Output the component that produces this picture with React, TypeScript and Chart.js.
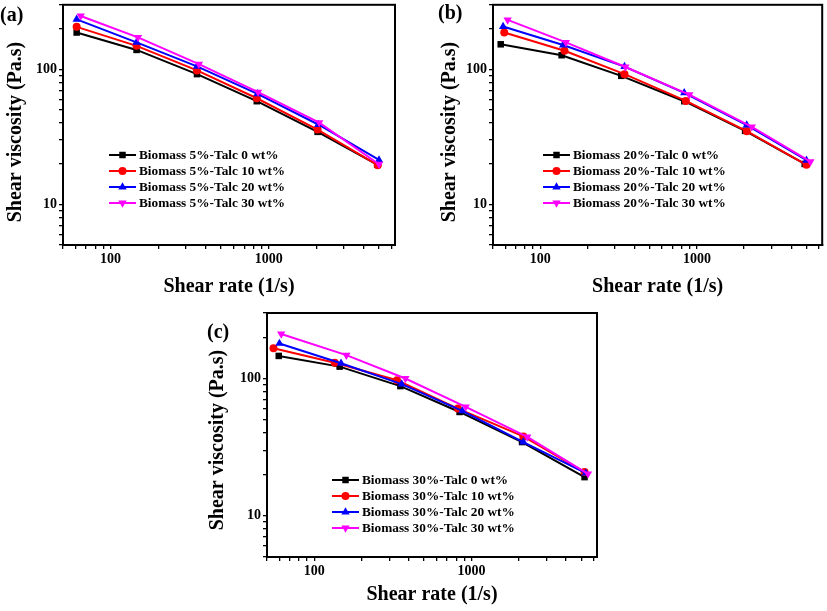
import React, { useEffect, useRef } from 'react';
import { Chart, registerables } from 'chart.js';

Chart.register(...registerables);

const FONT = '"Liberation Serif", "Times New Roman", serif';

// ---------- Series meta ----------
const seriesNames = ['Talc 0 wt%', 'Talc 10 wt%', 'Talc 20 wt%', 'Talc 30 wt%'];
const seriesColors = ['#000000', '#ff0000', '#0000ff', '#ff00ff'];
const pointStyles = ['rect', 'circle', 'triangle', 'triangle'];
const pointRotations = [0, 0, 0, 180];
const pointRadii = [4.6, 4.0, 4.8, 4.8];
const biomassLevels = ['5%', '20%', '30%'];
const panelLetters = ['(a)', '(b)', '(c)'];

// ---------- Panel (a): Biomass 5% ----------
const aX0 = [61, 146, 352, 841, 2040, 4860];
const aY0 = [187, 139, 92, 58, 34.4, 19.7];
const aX10 = [61, 146, 352, 841, 2040, 4900];
const aY10 = [206, 149, 98, 61, 35.8, 19.5];
const aX20 = [61, 146, 352, 850, 2060, 4990];
const aY20 = [234, 158, 105, 65.8, 39, 21.3];
const aX30 = [64.7, 149, 362, 857, 2090, 4990];
const aY30 = [248, 172, 109, 67.8, 40.3, 19.8];

// ---------- Panel (b): Biomass 20% ----------
const bX0 = [56, 137, 329, 830, 2030, 4870];
const bY0 = [153, 127, 89.4, 58, 35, 19.9];
const bX10 = [59, 143, 345, 850, 2080, 5000];
const bY10 = [187, 137, 92, 58.3, 34.8, 19.6];
const bX20 = [58, 140, 345, 830, 2080, 5000];
const bY20 = [207, 151, 104.6, 66.9, 38.6, 21.2];
const bX30 = [62, 146, 350, 894, 2240, 5300];
const bY30 = [232, 158, 104, 64.8, 37.5, 20.7];

// ---------- Panel (c): Biomass 30% ----------
const cX0 = [59.4, 145, 353, 841, 2100, 5250];
const cY0 = [146, 122, 88, 57, 34.4, 19.1];
const cX10 = [55, 135, 336, 820, 2140, 5250];
const cY10 = [166, 130, 97, 60.3, 37.8, 20.8];
const cX20 = [60, 148, 360, 875, 2140, 5350];
const cY20 = [180, 129, 91, 58, 34.4, 20.4];
const cX30 = [61.6, 160, 380, 920, 2265, 5520];
const cY30 = [211, 148, 100, 62, 37.5, 20.2];

// ---------- Axes ----------
const xTickValues = [50, 60, 70, 80, 90, 100, 200, 300, 400, 500, 600, 700, 800, 900, 1000, 2000, 3000, 4000, 5000, 6000];
const yTickValues = [5, 6, 7, 8, 9, 10, 20, 30, 40, 50, 60, 70, 80, 90, 100, 200, 300];
const xTickLabels = [100, 1000];
const yTickLabels = [10, 100];
const xMin = 50;
const xMax = 6300;
const yMin = 5;
const yMax = 300;
const xTitle = 'Shear rate (1/s)';
const yTitle = 'Shear viscosity (Pa.s)';

const panelX = [
  [aX0, aX10, aX20, aX30],
  [bX0, bX10, bX20, bX30],
  [cX0, cX10, cX20, cX30],
];
const panelY = [
  [aY0, aY10, aY20, aY30],
  [bY0, bY10, bY20, bY30],
  [cY0, cY10, cY20, cY30],
];

const panelLayouts = [
  { left: 0, top: 0, width: 410, height: 305, padL: 0, padT: 1, padR: 15, yW: 63, xH: 60, xTitlePadB: 6, yTitleX: 16, yTitleY: 132, legendX: 109, legendY: 155, labelX: 0, labelY: 16 },
  { left: 410, top: 0, width: 417, height: 305, padL: 26, padT: 1, padR: 4, yW: 57, xH: 60, xTitlePadB: 6, yTitleX: 40, yTitleY: 132, legendX: 133, legendY: 155, labelX: 28, labelY: 14 },
  { left: 190, top: 308, width: 420, height: 303, padL: 16, padT: 5, padR: 13, yW: 61, xH: 54, xTitlePadB: 4, yTitleX: 28, yTitleY: 132, legendX: 142, legendY: 172, labelX: 17, labelY: 25 },
];

function drawMarker(ctx: CanvasRenderingContext2D, style: string, x: number, y: number, r: number, rotDeg: number, color: string) {
  ctx.save();
  ctx.fillStyle = color;
  ctx.beginPath();
  if (style === 'rect') {
    const s = Math.SQRT1_2 * r;
    ctx.rect(x - s, y - s, 2 * s, 2 * s);
  } else if (style === 'circle') {
    ctx.arc(x, y, r, 0, Math.PI * 2);
  } else {
    let rad = (rotDeg * Math.PI) / 180;
    ctx.moveTo(x + Math.sin(rad) * r, y - Math.cos(rad) * r);
    rad += (2 * Math.PI) / 3;
    ctx.lineTo(x + Math.sin(rad) * r, y - Math.cos(rad) * r);
    rad += (2 * Math.PI) / 3;
    ctx.lineTo(x + Math.sin(rad) * r, y - Math.cos(rad) * r);
    ctx.closePath();
  }
  ctx.fill();
  ctx.restore();
}

const decorPlugin = {
  id: 'decor',
  afterDatasetsDraw(chart: any, _args: any, opts: any) {
    const { ctx, chartArea: ca } = chart;
    ctx.save();
    // frame
    ctx.strokeStyle = '#000';
    ctx.lineWidth = 2;
    ctx.strokeRect(ca.left, ca.top, ca.right - ca.left, ca.bottom - ca.top);
    // legend
    const ds = chart.data.datasets;
    ctx.font = `bold 13.3px ${FONT}`;
    ctx.textBaseline = 'middle';
    ctx.textAlign = 'left';
    ds.forEach((d: any, i: number) => {
      const y = opts.legendY + i * 16;
      const x0 = opts.legendX;
      ctx.strokeStyle = d.borderColor;
      ctx.lineWidth = 2;
      ctx.beginPath();
      ctx.moveTo(x0, y);
      ctx.lineTo(x0 + 27, y);
      ctx.stroke();
      drawMarker(ctx, d.pointStyle, x0 + 13.5, y, d.pointRadius, d.pointRotation || 0, d.borderColor);
      ctx.fillStyle = '#000';
      ctx.fillText(d.label, x0 + 30, y + 1);
    });
    // y-axis title
    ctx.save();
    ctx.translate(opts.yTitleX, opts.yTitleY);
    ctx.rotate(-Math.PI / 2);
    ctx.font = `bold 20px ${FONT}`;
    ctx.fillStyle = '#000';
    ctx.textAlign = 'center';
    ctx.textBaseline = 'middle';
    ctx.fillText(opts.yTitle, 0, 0);
    ctx.restore();
    // panel label
    ctx.font = `bold 20px ${FONT}`;
    ctx.fillStyle = '#000';
    ctx.textAlign = 'left';
    ctx.textBaseline = 'middle';
    ctx.fillText(opts.label, opts.labelX, opts.labelY);
    ctx.restore();
  },
};

function Panel({ idx }: { idx: number }) {
  const ref = useRef<HTMLCanvasElement>(null);
  const L = panelLayouts[idx];
  useEffect(() => {
    if (!ref.current) return;
    const datasets = seriesNames.map((n, s) => ({
      label: `Biomass ${biomassLevels[idx]}-${n}`,
      data: panelX[idx][s].map((x, i) => ({ x, y: panelY[idx][s][i] })),
      borderColor: seriesColors[s],
      backgroundColor: seriesColors[s],
      pointBackgroundColor: seriesColors[s],
      pointBorderColor: seriesColors[s],
      pointBorderWidth: 0,
      pointStyle: pointStyles[s],
      pointRotation: pointRotations[s],
      pointRadius: pointRadii[s],
      borderWidth: 2,
      tension: 0,
      clip: false as any,
      order: 3 - s,
    }));
    const chart = new Chart(ref.current, {
      type: 'line',
      data: { datasets },
      options: {
        animation: false,
        responsive: false,
        devicePixelRatio: 1,
        layout: { padding: { left: L.padL, top: L.padT, right: L.padR, bottom: 0 } },
        plugins: {
          legend: { display: false },
          tooltip: { enabled: false },
          decor: {
            legendX: L.legendX,
            legendY: L.legendY,
            label: panelLetters[idx],
            labelX: L.labelX,
            labelY: L.labelY,
            yTitle,
            yTitleX: L.yTitleX,
            yTitleY: L.yTitleY,
          },
        } as any,
        scales: {
          x: {
            type: 'logarithmic',
            min: xMin,
            max: xMax,
            afterBuildTicks: (scale: any) => {
              scale.ticks = xTickValues.map((v) => ({ value: v }));
            },
            afterFit: (scale: any) => {
              scale.height = L.xH;
              scale.paddingLeft = 0;
              scale.paddingRight = 0;
              scale.paddingTop = 0;
              scale.paddingBottom = 0;
            },
            ticks: {
              autoSkip: false,
              maxRotation: 0,
              minRotation: 0,
              padding: 2,
              color: '#000',
              font: { family: FONT, size: 14, weight: 'bold' },
              callback: (v: any) => (xTickLabels.includes(Number(v)) ? String(v) : ''),
            },
            grid: { display: true, drawOnChartArea: false, drawTicks: true, tickLength: 4, color: '#000', lineWidth: 1.3 },
            border: { display: true, color: '#000', width: 2 },
            title: {
              display: true,
              text: xTitle,
              color: '#000',
              font: { family: FONT, size: 20, weight: 'bold' },
              padding: { top: 0, bottom: L.xTitlePadB },
            },
          },
          y: {
            type: 'logarithmic',
            min: yMin,
            max: yMax,
            afterBuildTicks: (scale: any) => {
              scale.ticks = yTickValues.map((v) => ({ value: v }));
            },
            afterFit: (scale: any) => {
              scale.width = L.yW;
              scale.paddingLeft = 0;
              scale.paddingRight = 0;
              scale.paddingTop = 0;
              scale.paddingBottom = 0;
            },
            ticks: {
              autoSkip: false,
              padding: 2,
              color: '#000',
              font: { family: FONT, size: 14, weight: 'bold' },
              callback: (v: any) => (yTickLabels.includes(Number(v)) ? String(v) : ''),
            },
            grid: { display: true, drawOnChartArea: false, drawTicks: true, tickLength: 4, color: '#000', lineWidth: 1.3 },
            border: { display: true, color: '#000', width: 2 },
            title: { display: false },
          },
        },
      } as any,
      plugins: [decorPlugin as any],
    });
    return () => chart.destroy();
  }, [idx]);
  return (
    <canvas
      ref={ref}
      width={L.width}
      height={L.height}
      style={{ position: 'absolute', left: L.left, top: L.top, width: L.width, height: L.height }}
    />
  );
}

export default function App() {
  return (
    <div style={{ position: 'absolute', left: 0, top: 0, width: 827, height: 611, background: '#fff', overflow: 'hidden' }}>
      <Panel idx={0} />
      <Panel idx={1} />
      <Panel idx={2} />
    </div>
  );
}
